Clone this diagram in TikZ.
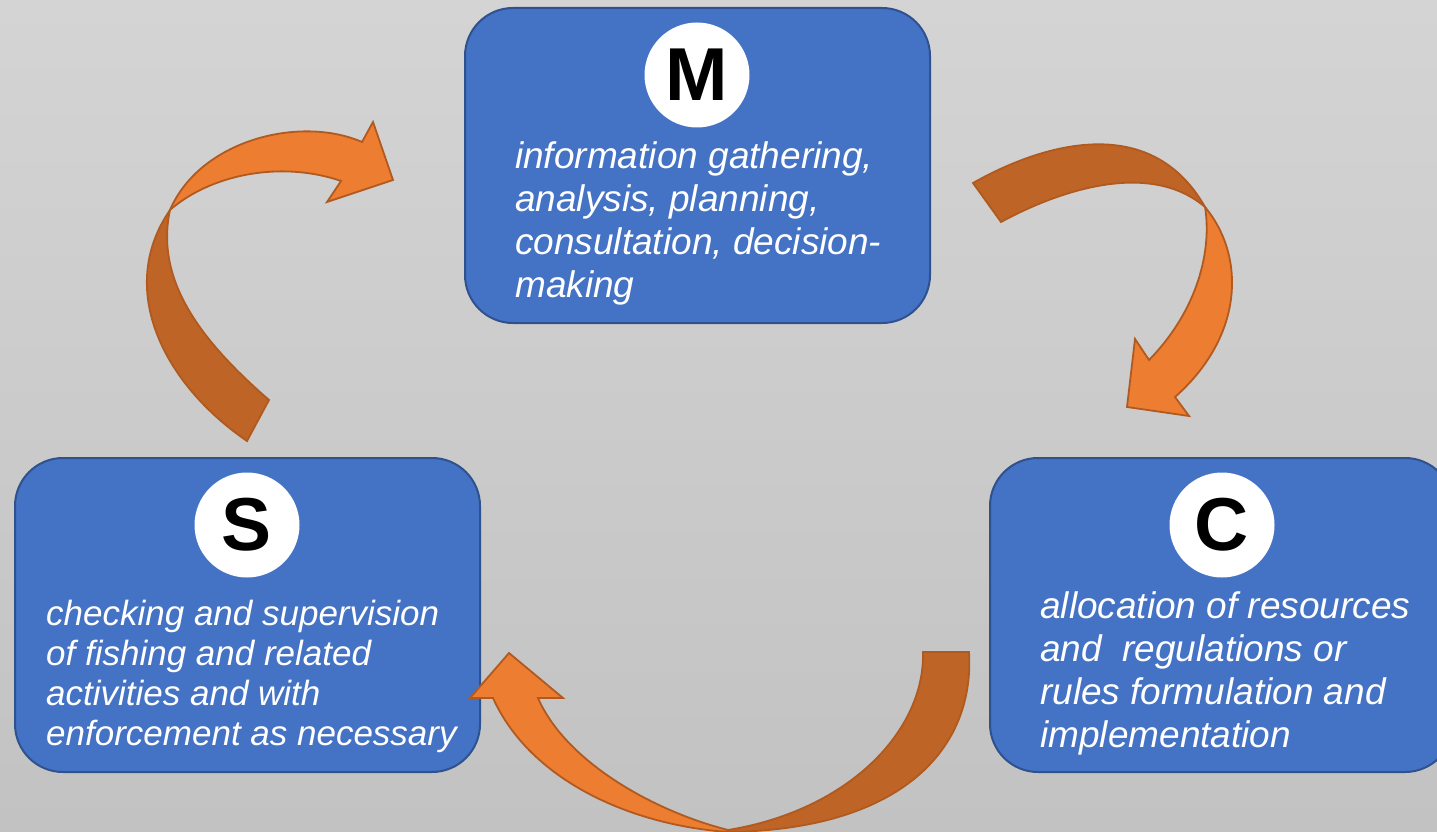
\documentclass[tikz,border=0pt]{standalone}
\usepackage{fontspec}
\setmainfont{Liberation Sans}
\definecolor{boxblue}{RGB}{68,114,196}
\definecolor{boxline}{RGB}{47,82,143}
\definecolor{orlight}{RGB}{237,125,49}
\definecolor{ordark}{RGB}{190,100,38}
\definecolor{orline}{RGB}{176,90,32}
\definecolor{bgtop}{RGB}{212,212,212}
\definecolor{bgbot}{RGB}{194,194,194}
\tikzset{
  box/.style={draw=boxline, line width=2pt, fill=boxblue, rounded corners=48pt, inner sep=0pt},
  letter/.style={circle, fill=white, minimum size=105pt, inner sep=0pt, text=black, font=\bfseries\fontsize{75}{75}\selectfont},
  txt/.style={text=white, align=left, inner sep=0pt, font=\itshape\fontsize{37}{43}\selectfont},
  lightpart/.style={fill=orlight, draw=orline, line width=1.8pt, line join=miter},
  darkpart/.style={fill=ordark, draw=orline, line width=1.8pt, line join=miter}
}
\begin{document}
\begin{tikzpicture}[x=1pt,y=-1pt]
\useasboundingbox (0,0) rectangle (1437,832);
\clip (0,0) rectangle (1437,832);
\shade[top color=bgtop, bottom color=bgbot] (0,0) rectangle (1437,832);
% boxes
\node[box, minimum width=465pt, minimum height=315pt] (M) at (697.5,165.5) {};
\node[box, minimum width=465pt, minimum height=314pt] (S) at (247.5,615) {};
\node[box, minimum width=463pt, minimum height=314pt] (C) at (1221.5,615) {};
% letters
\node[letter] (Mc) at (697,75) {M};
\node[letter] (Sc) at (247,525) {S};
\node[letter] (Cc) at (1222,525) {C};
% texts (anchored at the baseline of the last line)
\node[txt, anchor=base west] (Mt) at (515,297) {information gathering,\\analysis, planning,\\consultation, decision-\\making};
\node[txt, anchor=base west, font=\itshape\fontsize{35}{40}\selectfont] (St) at (46,745) {checking and supervision\\of fishing and related\\activities and with\\enforcement as necessary};
\node[txt, anchor=base west] (Ct) at (1040,747) {allocation of resources\\and~ regulations or\\rules formulation and\\implementation};
% arrow S -> M
\draw[darkpart] (247,441) .. controls (165,385) and (115,290) .. (170,210) .. controls (155,280) and (200,340) .. (269,400) -- cycle;
\draw[lightpart] (170,210) .. controls (200,140) and (300,115) .. (362,142) -- (373,122) -- (393,180) -- (327,202) -- (341,181) .. controls (280,160) and (210,175) .. (170,210) -- cycle;
% arrow M -> C
\draw[darkpart] (973,183) .. controls (1040,145) and (1150,110) .. (1205,207) .. controls (1150,160) and (1060,190) .. (1001,222) -- cycle;
\draw[lightpart] (1205,207) .. controls (1245,255) and (1245,335) .. (1175,397) -- (1189,416) -- (1127,407) -- (1135,339) -- (1149,360) .. controls (1198,310) and (1212,250) .. (1205,207) -- cycle;
% arrow C -> S
\draw[darkpart] (969,652) .. controls (975,750) and (900,830) .. (728,832) -- (728,830) .. controls (850,810) and (925,730) .. (923,652) -- cycle;
\draw[lightpart] (728,832) .. controls (630,825) and (530,780) .. (493,698) -- (470,698) -- (509,653) -- (563,698) -- (538,698) .. controls (565,760) and (650,810) .. (728,830) -- cycle;
\end{tikzpicture}
\end{document}
